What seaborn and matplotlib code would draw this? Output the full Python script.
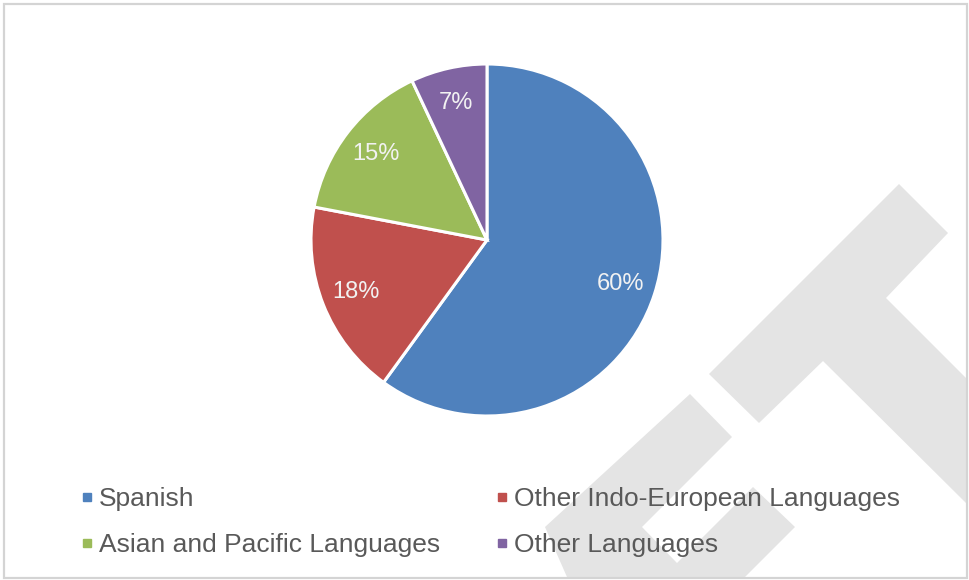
import matplotlib
matplotlib.use("Agg")
import matplotlib.pyplot as plt
from matplotlib.patches import Polygon, Rectangle
from matplotlib.lines import Line2D
import seaborn as sns

# Share of speakers by language group
categories = ["Spanish", "Other Indo-European Languages",
              "Asian and Pacific Languages", "Other Languages"]
shares = [60, 18, 15, 7]
colors = ["#4F81BD", "#C0504D", "#9BBB59", "#8064A2"]

sns.set_theme(style="white")
plt.rcParams["font.family"] = ["Liberation Sans", "DejaVu Sans"]

W, H = 969, 580
fig = plt.figure(figsize=(W / 100, H / 100), dpi=100)
fig.patch.set_facecolor("white")


def px(x, y):
    """Convert top-left pixel coordinates to figure fractions."""
    return (x / W, 1 - y / H)


# Light grey logo shapes in the background
logo_color = "#E4E4E4"
t_shape = [(899, 184), (948, 233), (886, 298), (966, 378), (966, 503),
           (823, 361), (759, 423), (709, 374)]
l_shape = [(690, 394), (732, 437), (642, 527), (677, 563), (753, 487),
           (795, 527), (745, 577), (567, 577), (545, 527)]
for shape in (t_shape, l_shape):
    fig.add_artist(Polygon([px(x, y) for x, y in shape], closed=True,
                           transform=fig.transFigure, facecolor=logo_color,
                           edgecolor="none", zorder=-2))

# Outer frame of the chart area
x0, y0 = px(3.5, 577.5)
x1, y1 = px(966.5, 3.5)
fig.add_artist(Rectangle((x0, y0), x1 - x0, y1 - y0, transform=fig.transFigure,
                         facecolor="none", edgecolor="#D4D4D4", linewidth=1.6,
                         zorder=-1))

# Pie axes: centre (487, 240), radius 176 px
cx, cy, r = 487, 240, 176
ax = fig.add_axes([(cx - r) / W, 1 - (cy + r) / H, 2 * r / W, 2 * r / H])
ax.set_facecolor("none")

wedges, texts, autotexts = ax.pie(
    shares,
    colors=sns.color_palette(colors),
    startangle=90,
    counterclock=False,
    autopct="%.0f%%",
    pctdistance=0.8,
    wedgeprops=dict(edgecolor="white", linewidth=2.2),
    textprops=dict(color="#F2F2F2", fontsize=17),
)
ax.set_xlim(-1, 1)
ax.set_ylim(-1, 1)
ax.set_aspect("equal")
ax.axis("off")

# Legend below the pie, two columns filled row by row
handles = [Line2D([0], [0], marker="s", linestyle="none", markersize=5.8,
                  markerfacecolor=c, markeredgecolor=c) for c in colors]
order = [0, 2, 1, 3]
lx, ly = px(82, 522)
leg = fig.legend([handles[i] for i in order], [categories[i] for i in order],
                 loc="center left",
                 bbox_to_anchor=(lx, ly), bbox_transform=fig.transFigure,
                 ncol=2, frameon=False, fontsize=19, borderpad=0,
                 borderaxespad=0, handlelength=0.35, handletextpad=0.3,
                 columnspacing=2.15, labelspacing=0.85)
for t in leg.get_texts():
    t.set_color("#595959")

fig.savefig("out.png", dpi=100, facecolor="white")
